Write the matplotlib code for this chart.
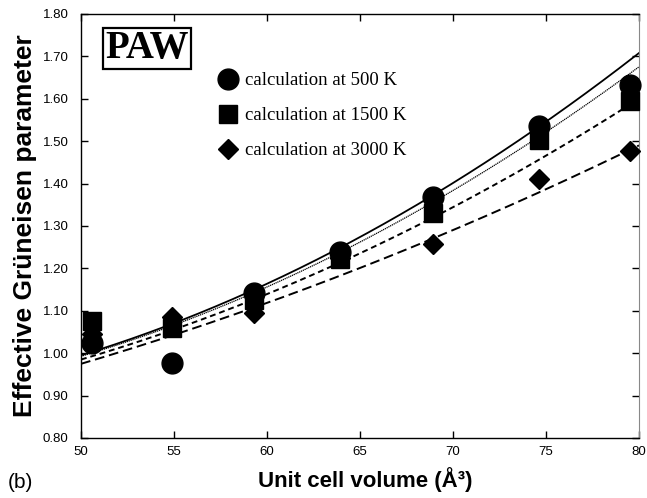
import numpy as np
import matplotlib
matplotlib.use("Agg")
import matplotlib.pyplot as plt
from matplotlib.lines import Line2D

# Calculated effective Grüneisen parameter vs unit cell volume
vol_500 = [50.6, 54.9, 59.3, 63.9, 68.9, 74.6, 79.5]
gam_500 = [1.023, 0.977, 1.142, 1.238, 1.368, 1.535, 1.632]

vol_1500 = [50.6, 54.9, 59.3, 63.9, 68.9, 74.6, 79.5]
gam_1500 = [1.075, 1.060, 1.125, 1.222, 1.330, 1.503, 1.595]

vol_3000 = [50.6, 54.9, 59.3, 63.9, 68.9, 74.6, 79.5]
gam_3000 = [1.045, 1.085, 1.094, 1.225, 1.257, 1.410, 1.477]

# Fitted curves, sampled along the volume axis
fit_vol = [50, 55, 60, 65, 70, 75, 80]
fit_solid = [0.995, 1.071, 1.164, 1.274, 1.401, 1.546, 1.708]
fit_dotted = [0.993, 1.066, 1.156, 1.262, 1.384, 1.522, 1.675]
fit_short = [0.985, 1.056, 1.139, 1.236, 1.344, 1.466, 1.600]
fit_long = [0.975, 1.043, 1.119, 1.201, 1.290, 1.387, 1.490]

labels = ["calculation at 500 K", "calculation at 1500 K", "calculation at 3000 K"]

sans = ["Liberation Sans", "DejaVu Sans"]
serif = ["Liberation Serif", "DejaVu Serif"]

fig = plt.figure(figsize=(6.47, 4.98), dpi=100)
ax = fig.add_axes([0.1252, 0.1205, 0.8624, 0.8514])

# smooth curves through the sampled fit values
xs = np.linspace(50, 80, 200)
for vals, style, lw in [(fit_solid, "-", 1.3),
                        (fit_dotted, (0, (1, 0.6)), 0.9),
                        (fit_short, (0, (3, 2)), 1.4),
                        (fit_long, (0, (5, 2.5)), 1.4)]:
    coef = np.polyfit(fit_vol, vals, 2)
    ax.plot(xs, np.polyval(coef, xs), color="black", linestyle=style, lw=lw, zorder=2)

ax.plot(vol_3000, gam_3000, "D", color="black", ms=10, zorder=3, clip_on=False)
ax.plot(vol_1500, gam_1500, "s", color="black", ms=13, zorder=4, clip_on=False)
ax.plot(vol_500, gam_500, "o", color="black", ms=15, zorder=5, clip_on=False)

ax.set_xlim(50, 80)
ax.set_ylim(0.8, 1.8)
ax.set_xticks(np.arange(50, 81, 5))
ax.set_yticks(np.arange(0.8, 1.81, 0.1))
ax.set_yticklabels([f"{v:.2f}" for v in np.arange(0.8, 1.81, 0.1)])
ax.tick_params(direction="in", length=5, width=1, top=True, right=True,
               labelsize=9.5)
ax.tick_params(axis="y", pad=9)
ax.tick_params(axis="x", pad=6)
for lab in ax.get_xticklabels() + ax.get_yticklabels():
    lab.set_family(sans)
for side in ["left", "bottom", "top"]:
    ax.spines[side].set_linewidth(1.0)
ax.spines["right"].set_color("#888888")

ax.set_xlabel("Unit cell volume (Å³)", family=sans, fontsize=16,
              fontweight="bold")
ax.xaxis.set_label_coords(0.51, -0.068)
ax.set_ylabel("Effective Grüneisen parameter", family=sans, fontsize=19,
              fontweight="bold", labelpad=4)
fig.text(0.012, 0.02, "(b)", family=sans, fontsize=15)

ax.text(0.119, 0.919, "PAW", transform=ax.transAxes, ha="center", va="center",
        family=serif, fontsize=28, fontweight="bold",
        bbox=dict(boxstyle="square,pad=0.06", fc="white", ec="black", lw=1.6))

handles = [Line2D([], [], ls="none", marker="o", color="black", ms=15),
           Line2D([], [], ls="none", marker="s", color="black", ms=13),
           Line2D([], [], ls="none", marker="D", color="black", ms=10)]
ax.legend(handles, labels, loc="upper left", bbox_to_anchor=(0.23, 0.885),
          frameon=False, prop={"family": serif, "size": 13.5},
          handlelength=1.0, handletextpad=0.4, labelspacing=0.95, borderpad=0)

fig.savefig("out.png", dpi=100)
